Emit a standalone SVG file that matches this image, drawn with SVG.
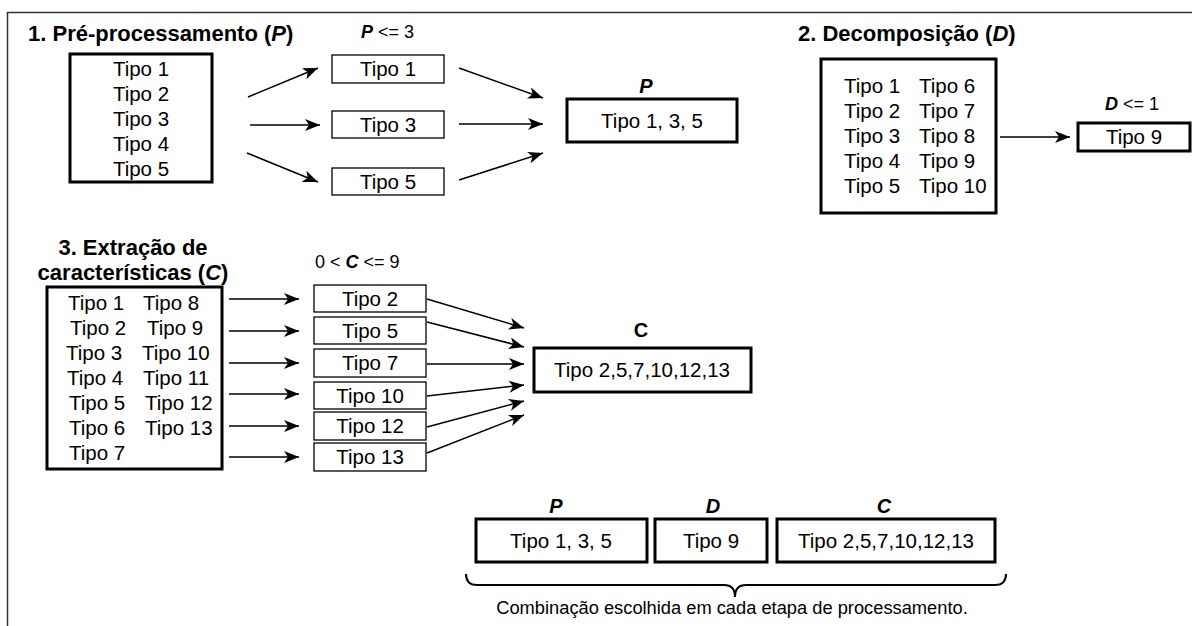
<svg xmlns="http://www.w3.org/2000/svg" width="1192" height="626" viewBox="0 0 1192 626">
<defs>
<marker id="ah" markerUnits="userSpaceOnUse" markerWidth="16" markerHeight="12" refX="15" refY="6" orient="auto">
<path d="M0,0 L15,6 L0,12 L4,6 z" fill="#000"/>
</marker>
<style>
text{font-family:"Liberation Sans",Arial,sans-serif;fill:#000}
.t{font-size:20.5px}
.tc{font-size:20.5px;text-anchor:middle}
.h{font-size:22px;font-weight:bold}
.hc{font-size:22px;font-weight:bold;text-anchor:middle}
.s{font-size:18px}
.lb{font-size:20px;font-weight:bold;font-style:italic;text-anchor:middle}
.cap{font-size:18.3px;text-anchor:middle}
.thick{fill:#fff;stroke:#000;stroke-width:3}
.thin{fill:#fff;stroke:#000;stroke-width:1.3}
.c{stroke:#000;stroke-width:1.5;fill:none;marker-end:url(#ah)}
</style>
</defs>
<rect width="1192" height="626" fill="#fff"/>
<path d="M7.5,626 L7.5,12.5 L1192,12.5" fill="none" stroke="#333" stroke-width="1.5"/>

<g id="connectors">
<line class="c" x1="248" y1="97" x2="318" y2="68"/>
<line class="c" x1="250" y1="125" x2="320" y2="125"/>
<line class="c" x1="247" y1="153" x2="318" y2="182"/>
<line class="c" x1="459" y1="68" x2="543" y2="98"/>
<line class="c" x1="459" y1="124" x2="543" y2="124"/>
<line class="c" x1="459" y1="180" x2="543" y2="153"/>
<line class="c" x1="1000" y1="137" x2="1070" y2="137"/>
<line class="c" x1="229" y1="299" x2="299" y2="299"/>
<line class="c" x1="229" y1="331" x2="299" y2="331"/>
<line class="c" x1="229" y1="363" x2="299" y2="363"/>
<line class="c" x1="229" y1="394" x2="299" y2="394"/>
<line class="c" x1="229" y1="426" x2="299" y2="426"/>
<line class="c" x1="229" y1="457" x2="299" y2="457"/>
<line class="c" x1="427" y1="299" x2="524" y2="328"/>
<line class="c" x1="427" y1="322" x2="524" y2="347"/>
<line class="c" x1="427" y1="364" x2="524" y2="364"/>
<line class="c" x1="427" y1="396" x2="524" y2="385"/>
<line class="c" x1="427" y1="427" x2="524" y2="401"/>
<line class="c" x1="427" y1="453" x2="524" y2="415"/>
</g>

<g id="title-p"><text class="h" x="28" y="41">1. Pré-processamento (<tspan font-style="italic">P</tspan>)</text></g>
<g id="p-all">
<rect class="thick" x="70" y="54" width="142" height="128"/>
<text class="tc" x="141" y="76">Tipo 1</text>
<text class="tc" x="141" y="101">Tipo 2</text>
<text class="tc" x="141" y="126">Tipo 3</text>
<text class="tc" x="141" y="151">Tipo 4</text>
<text class="tc" x="141" y="176">Tipo 5</text>
</g>
<g id="p-limit"><text class="s" x="361" y="38"><tspan font-weight="bold" font-style="italic">P</tspan> &lt;= 3</text></g>
<g id="p1"><rect class="thin" x="332" y="55" width="112" height="28"/><text class="tc" x="388" y="76">Tipo 1</text></g>
<g id="p3"><rect class="thin" x="332" y="111" width="112" height="27"/><text class="tc" x="388" y="132">Tipo 3</text></g>
<g id="p5"><rect class="thin" x="332" y="168" width="112" height="27"/><text class="tc" x="388" y="189">Tipo 5</text></g>
<g id="p-result">
<text class="lb" x="646" y="93">P</text>
<rect class="thick" x="567" y="99" width="170" height="43"/>
<text class="tc" x="652" y="128">Tipo 1, 3, 5</text>
</g>

<g id="title-d"><text class="h" x="798" y="41">2. Decomposição (<tspan font-style="italic">D</tspan>)</text></g>
<g id="d-all">
<rect class="thick" x="821" y="59" width="175" height="154"/>
<text class="t" x="844" y="93">Tipo 1</text><text class="t" x="919" y="93">Tipo 6</text>
<text class="t" x="844" y="118">Tipo 2</text><text class="t" x="919" y="118">Tipo 7</text>
<text class="t" x="844" y="143">Tipo 3</text><text class="t" x="919" y="143">Tipo 8</text>
<text class="t" x="844" y="168">Tipo 4</text><text class="t" x="919" y="168">Tipo 9</text>
<text class="t" x="844" y="193">Tipo 5</text><text class="t" x="919" y="193">Tipo 10</text>
</g>
<g id="d-result">
<text class="s" x="1105" y="110"><tspan font-weight="bold" font-style="italic">D</tspan> &lt;= 1</text>
<rect class="thick" x="1078" y="123" width="112" height="28"/>
<text class="tc" x="1134" y="144">Tipo 9</text>
</g>

<g id="title-c">
<text class="hc" x="133" y="255">3. Extração de</text>
<text class="hc" x="133" y="280">características (<tspan font-style="italic">C</tspan>)</text>
</g>
<g id="c-all">
<rect class="thick" x="47" y="287" width="175" height="182"/>
<text class="t" x="68" y="310">Tipo 1</text><text class="t" x="143" y="310">Tipo 8</text>
<text class="t" x="70" y="335">Tipo 2</text><text class="t" x="147" y="335">Tipo 9</text>
<text class="t" x="66" y="360">Tipo 3</text><text class="t" x="142" y="360">Tipo 10</text>
<text class="t" x="67" y="385">Tipo 4</text><text class="t" x="143" y="385">Tipo 11</text>
<text class="t" x="69" y="410">Tipo 5</text><text class="t" x="145" y="410">Tipo 12</text>
<text class="t" x="69" y="435">Tipo 6</text><text class="t" x="145" y="435">Tipo 13</text>
<text class="t" x="69" y="460">Tipo 7</text>
</g>
<g id="c-limit"><text class="s" x="315" y="268">0 &lt; <tspan font-weight="bold" font-style="italic">C</tspan> &lt;= 9</text></g>
<g id="c2"><rect class="thin" x="314" y="285" width="112" height="27"/><text class="tc" x="370" y="306">Tipo 2</text></g>
<g id="c5"><rect class="thin" x="314" y="317" width="112" height="27"/><text class="tc" x="370" y="338">Tipo 5</text></g>
<g id="c7"><rect class="thin" x="314" y="349" width="112" height="28"/><text class="tc" x="370" y="370">Tipo 7</text></g>
<g id="c10"><rect class="thin" x="314" y="382" width="112" height="27"/><text class="tc" x="370" y="403">Tipo 10</text></g>
<g id="c12"><rect class="thin" x="314" y="412" width="112" height="28"/><text class="tc" x="370" y="433">Tipo 12</text></g>
<g id="c13"><rect class="thin" x="314" y="443" width="112" height="28"/><text class="tc" x="370" y="464">Tipo 13</text></g>
<g id="c-result">
<text class="hc" x="641" y="337" style="font-size:20px">C</text>
<rect class="thick" x="534" y="348" width="217" height="44"/>
<text class="tc" x="642" y="377">Tipo 2,5,7,10,12,13</text>
</g>

<g id="combo-p"><text class="lb" x="556" y="513">P</text><rect class="thick" x="476" y="519" width="171" height="43"/><text class="tc" x="561" y="548">Tipo 1, 3, 5</text></g>
<g id="combo-d"><text class="lb" x="713" y="513">D</text><rect class="thick" x="655" y="519" width="112" height="43"/><text class="tc" x="711" y="548">Tipo 9</text></g>
<g id="combo-c"><text class="lb" x="884" y="513">C</text><rect class="thick" x="777" y="519" width="218" height="43"/><text class="tc" x="886" y="548">Tipo 2,5,7,10,12,13</text></g>
<g id="brace">
<path d="M466,574 Q466,585 477,585 L724,585 Q735,585 735,597 Q735,585 746,585 L995,585 Q1006,585 1006,574" fill="none" stroke="#000" stroke-width="2"/>
<text class="cap" x="732" y="614">Combinação escolhida em cada etapa de processamento.</text>
</g>
</svg>
